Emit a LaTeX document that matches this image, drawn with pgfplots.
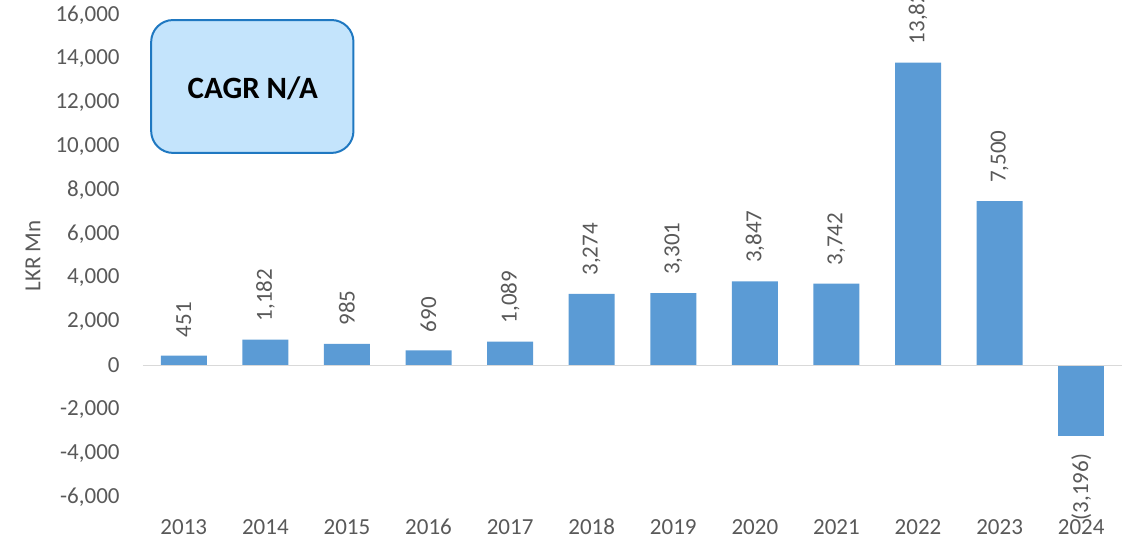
\documentclass[border=0pt]{standalone}
\usepackage{fontspec}
\setmainfont{Carlito}
\usepackage{pgfplots}
\usepackage{pgfplotstable}
\pgfplotsset{compat=1.18}
\definecolor{barblue}{HTML}{5B9BD5}
\definecolor{txtgray}{HTML}{595959}
\definecolor{boxfill}{HTML}{C4E4FC}
\definecolor{boxdraw}{HTML}{1F78C1}
\definecolor{zeroline}{HTML}{D9D9D9}
\pgfplotstableread{
x y lab
0 451 451
1 1182 1,182
2 985 985
3 690 690
4 1089 1,089
5 3274 3,274
6 3301 3,301
7 3847 3,847
8 3742 3,742
9 13823 13,823
10 7500 7,500
}\postable
\pgfplotstableread{
x y lab
11 -3196 (3,196)
}\negtable
\begin{document}
\begin{tikzpicture}
\useasboundingbox (-71.5pt,-24pt) rectangle (492.5pt,248.5pt);
\clip (-71.5pt,-24pt) rectangle (492.5pt,248.5pt);
\begin{axis}[
  at={(0pt,0pt)}, anchor=south west,
  scale only axis, width=489.5pt, height=241pt,
  clip=false,
  ybar, bar width=23pt, bar shift=0pt,
  xmin=-0.5, xmax=11.5, ymin=-6000, ymax=16000,
  xtick={0,...,11},
  xticklabels={2013,2014,2015,2016,2017,2018,2019,2020,2021,2022,2023,2024},
  ytick={-6000,-4000,...,16000},
  scaled y ticks=false,
  axis line style={draw=none},
  tick style={draw=none},
  major tick length=0pt,
  /pgf/number format/assume math mode=true,
  /pgf/number format/1000 sep={,},
  yticklabel style={font=\fontsize{11.5}{13}\selectfont, text=txtgray, anchor=east, inner sep=0pt, xshift=-11.5pt},
  xticklabel style={font=\fontsize{11.5}{13}\selectfont, text=txtgray, anchor=base, inner sep=0pt, yshift=-19pt},
  ylabel={LKR Mn},
  ylabel style={at={(axis description cs:-0.1124,0.5)}, anchor=center, font=\fontsize{11.5}{13}\selectfont, text=txtgray},
  point meta=explicit symbolic,
]
\addplot[fill=barblue, draw=none, nodes near coords, nodes near coords align={west},
  every node near coord/.append style={rotate=90, anchor=west, font=\fontsize{11.5}{13}\selectfont, text=txtgray, inner xsep=9pt, inner ysep=0pt}]
  table[x=x, y=y, meta=lab] {\postable};
\addplot[fill=barblue, draw=none, nodes near coords, nodes near coords align={east},
  every node near coord/.append style={rotate=90, anchor=east, font=\fontsize{11.5}{13}\selectfont, text=txtgray, inner xsep=9pt, inner ysep=0pt}]
  table[x=x, y=y, meta=lab] {\negtable};
\draw[zeroline, line width=0.8pt] (axis cs:-0.5,0) -- (axis cs:11.5,0);
\draw[boxdraw, fill=boxfill, line width=1pt, rounded corners=11pt] (axis cs:-0.40,15771) rectangle (axis cs:2.08,9704);
\node[font=\bfseries\fontsize{15.5}{18}\selectfont, text=black] at (axis cs:0.846,12669) {CAGR N/A};
\end{axis}
\end{tikzpicture}
\end{document}
